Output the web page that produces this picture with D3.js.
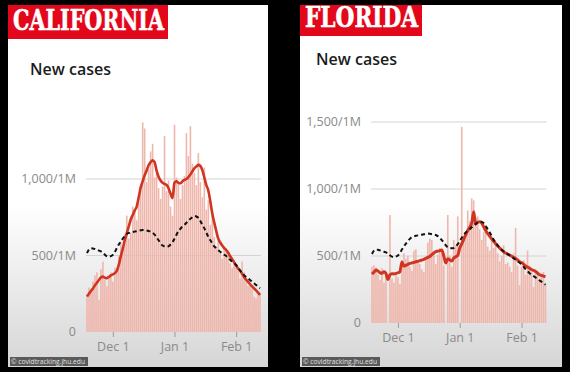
<!DOCTYPE html>
<html>
<head>
<meta charset="utf-8">
<script src="https://cdn.jsdelivr.net/npm/d3@7"></script>
<style>
  body { margin: 0; background: #000; }
  svg { display: block; }
</style>
</head>
<body>
<svg id="chart" width="570" height="372"></svg>
<script>
// daily data, Nov 18 2020 .. Feb 13 2021 (cases per 1M)
var firstDay = new Date(2020, 10, 18), lastDay = new Date(2021, 1, 13);
var days = d3.timeDay.range(firstDay, d3.timeDay.offset(lastDay, 1));

var caDaily = [240, 290, 270, 330, 370, 390, 210, 410, 460, 340, 300, 360, 390, 330, 420, 410, 500, 590, 560, 640,
  760, 610, 650, 820, 790, 730, 900, 930, 1370, 1330, 980, 1060, 1180, 1230, 1010, 1060, 940, 870, 950, 1280,
  920, 990, 820, 760, 1355, 1010, 980, 870, 960, 1020, 1300, 1150, 1345, 1100, 1040, 960, 1170, 980, 880, 1075,
  800, 860, 700, 760, 620, 560, 600, 520, 480, 560, 540, 500, 450, 420, 470, 430, 400, 350, 460, 390,
  330, 300, 340, 280, 230, 220, 240, 260];
var caAvg = [232, 250, 268, 284, 305, 322, 340, 356, 362, 355, 352, 360, 370, 376, 385, 400, 440, 495, 545, 600,
  645, 690, 735, 765, 795, 820, 880, 945, 985, 1025, 1055, 1090, 1110, 1122, 1110, 1055, 1015, 990, 975, 968,
  961, 940, 905, 875, 975, 985, 975, 972, 985, 994, 1000, 1012, 1030, 1050, 1070, 1082, 1092, 1085, 1058, 1010,
  960, 925, 855, 775, 715, 660, 610, 585, 565, 548, 536, 518, 495, 475, 455, 435, 415, 400, 380, 360,
  342, 328, 312, 298, 285, 272, 258, 242];
var flDaily = [420, 430, 415, 360, 320, 410, 300, 350, 0, 806, 330, 300, 380, 340, 290, 470, 520, 480, 500, 420,
  390, 540, 550, 470, 440, 400, 380, 470, 600, 630, 620, 520, 440, 510, 560, 520, 430, 0, 806, 500,
  420, 620, 580, 795, 0, 1464, 620, 680, 840, 760, 930, 915, 780, 795, 700, 620, 680, 730, 570, 540,
  640, 560, 600, 520, 460, 500, 580, 440, 450, 420, 380, 520, 709, 430, 283, 420, 470, 360, 540, 430,
  380, 269, 400, 390, 330, 360, 380, 290];
var flAvg = [365, 380, 395, 388, 375, 372, 383, 370, 325, 360, 368, 366, 370, 375, 383, 455, 425, 430, 438, 445,
  448, 452, 457, 460, 465, 470, 475, 482, 490, 497, 510, 522, 532, 536, 540, 545, 500, 448, 480, 470,
  462, 485, 495, 505, 560, 590, 625, 660, 690, 715, 745, 830, 738, 752, 756, 745, 718, 690, 668, 648,
  628, 610, 592, 575, 560, 545, 532, 522, 515, 508, 498, 490, 482, 470, 458, 450, 440, 425, 418, 408,
  398, 392, 385, 372, 360, 355, 350, 345];
var usAvg = [515, 540, 548, 546, 542, 538, 532, 527, 518, 505, 495, 492, 496, 504, 522, 548, 572, 592, 610, 628,
  641, 647, 651, 654, 656, 659, 662, 665, 667, 666, 663, 660, 657, 648, 636, 618, 600, 580, 565, 560,
  558, 560, 572, 588, 610, 636, 660, 675, 690, 700, 714, 728, 740, 750, 758, 755, 746, 725, 700, 678,
  650, 622, 600, 580, 560, 547, 535, 525, 514, 505, 497, 484, 472, 460, 450, 438, 420, 402, 386, 372,
  360, 350, 340, 330, 318, 308, 297, 286];

var xTickDates = [new Date(2020, 11, 1), new Date(2021, 0, 1), new Date(2021, 1, 1)];
var xTickLabels = ["Dec 1", "Jan 1", "Feb 1"];
var caTicks = [0, 500, 1000];
var flTicks = [0, 500, 1000, 1500];

var svg = d3.select("#chart");
var defs = svg.append("defs");
var grad = defs.append("linearGradient").attr("id", "panelGrad")
  .attr("x1", 0).attr("y1", 0).attr("x2", 0).attr("y2", 1);
grad.append("stop").attr("offset", "0.55").attr("stop-color", "#ffffff");
grad.append("stop").attr("offset", "1").attr("stop-color", "#d6d6d6");

function yLabel(d) {
  return d === 0 ? "0" : d3.format(",")(d) + "/1M";
}

function drawPanel(p) {
  var g = svg.append("g");

  g.append("rect")
    .attr("x", p.left).attr("y", 5)
    .attr("width", p.right - p.left).attr("height", 362)
    .attr("fill", "url(#panelGrad)");

  // red state label
  g.append("rect")
    .attr("x", p.left).attr("y", 5)
    .attr("width", p.tagW).attr("height", p.tagH)
    .attr("fill", "#e2071b");
  g.append("text")
    .attr("x", p.left + 5).attr("y", p.tagH - 4)
    .attr("textLength", p.tagW - 9).attr("lengthAdjust", "spacingAndGlyphs")
    .attr("font-family", "DejaVu Serif").attr("font-weight", "bold")
    .attr("font-size", 28).attr("fill", "#fff")
    .attr("stroke", "#fff").attr("stroke-width", 0.6)
    .text(p.name);

  g.append("text")
    .attr("x", p.titleX).attr("y", p.titleY)
    .attr("font-family", "Open Sans").attr("font-weight", 600)
    .attr("font-size", 16).attr("fill", "#1c1c1c")
    .text("New cases");

  var x = d3.scaleTime()
    .domain([d3.timeHour.offset(firstDay, -12), d3.timeHour.offset(lastDay, 12)])
    .range([p.x0, p.x1]);
  var y = d3.scaleLinear().domain([0, p.yMax]).range([p.y0, p.yTop]);

  // gridlines + y labels
  g.append("g").selectAll("line")
    .data(p.yTicks.filter(function (d) { return d > 0; }))
    .enter().append("line")
    .attr("x1", p.x0).attr("x2", p.x1)
    .attr("y1", function (d) { return y(d); })
    .attr("y2", function (d) { return y(d); })
    .attr("stroke", "#d4d4d4").attr("stroke-width", 1);

  g.append("g").selectAll("text")
    .data(p.yTicks)
    .enter().append("text")
    .attr("x", p.x0 - 10)
    .attr("y", function (d) { return y(d); })
    .attr("dy", "0.35em")
    .attr("text-anchor", "end")
    .attr("font-family", "Open Sans").attr("font-size", 12.5)
    .attr("fill", "#8a8a8a")
    .text(yLabel);

  // bars
  var bw = 1.6;
  g.append("g").selectAll("rect")
    .data(p.daily)
    .enter().append("rect")
    .attr("x", function (d, i) { return x(days[i]) - bw / 2; })
    .attr("y", function (d) { return y(d); })
    .attr("width", bw)
    .attr("height", function (d) { return y(0) - y(d); })
    .attr("fill", "#efb6ac");

  // x axis
  var xAxis = d3.axisBottom(x)
    .tickValues(xTickDates)
    .tickFormat(function (d, i) { return xTickLabels[i]; })
    .tickSize(5).tickPadding(5);
  var ax = g.append("g")
    .attr("transform", "translate(0," + p.y0 + ")")
    .call(xAxis);
  ax.select(".domain").remove();
  ax.selectAll("line").attr("stroke", "#9a9a9a");
  ax.selectAll("text")
    .attr("font-family", "Open Sans").attr("font-size", 12.5)
    .attr("fill", "#8a8a8a");

  var line = d3.line()
    .x(function (d, i) { return x(days[i]); })
    .y(function (d) { return y(d); })
    .curve(d3.curveMonotoneX);

  g.append("path")
    .datum(p.avg)
    .attr("d", line)
    .attr("fill", "none")
    .attr("stroke", "#cf3521")
    .attr("stroke-width", p.lineW)
    .attr("stroke-linejoin", "round");

  g.append("path")
    .datum(usAvg)
    .attr("d", line)
    .attr("fill", "none")
    .attr("stroke", "#111")
    .attr("stroke-width", 2)
    .attr("stroke-dasharray", "4,3");

  // source credit
  g.append("rect")
    .attr("x", p.left + 2).attr("y", 357)
    .attr("width", 78).attr("height", 9)
    .attr("fill", "#5a5a5a");
  g.append("text")
    .attr("x", p.left + 3).attr("y", 364)
    .attr("textLength", 74).attr("lengthAdjust", "spacingAndGlyphs")
    .attr("font-family", "Open Sans").attr("font-size", 7)
    .attr("fill", "#e0e0e0")
    .text("\u00a9 covidtracking.jhu.edu");
}

drawPanel({
  name: "CALIFORNIA", left: 8, right: 268, tagW: 160, tagH: 34, titleX: 30, titleY: 75,
  x0: 86, x1: 261, y0: 332, yTop: 179, yMax: 1000, yTicks: caTicks,
  daily: caDaily, avg: caAvg, lineW: 2.6
});
drawPanel({
  name: "FLORIDA", left: 300, right: 562, tagW: 122, tagH: 31, titleX: 316, titleY: 65,
  x0: 371, x1: 546.5, y0: 323, yTop: 122, yMax: 1500, yTicks: flTicks,
  daily: flDaily, avg: flAvg, lineW: 3
});
</script>
</body>
</html>
